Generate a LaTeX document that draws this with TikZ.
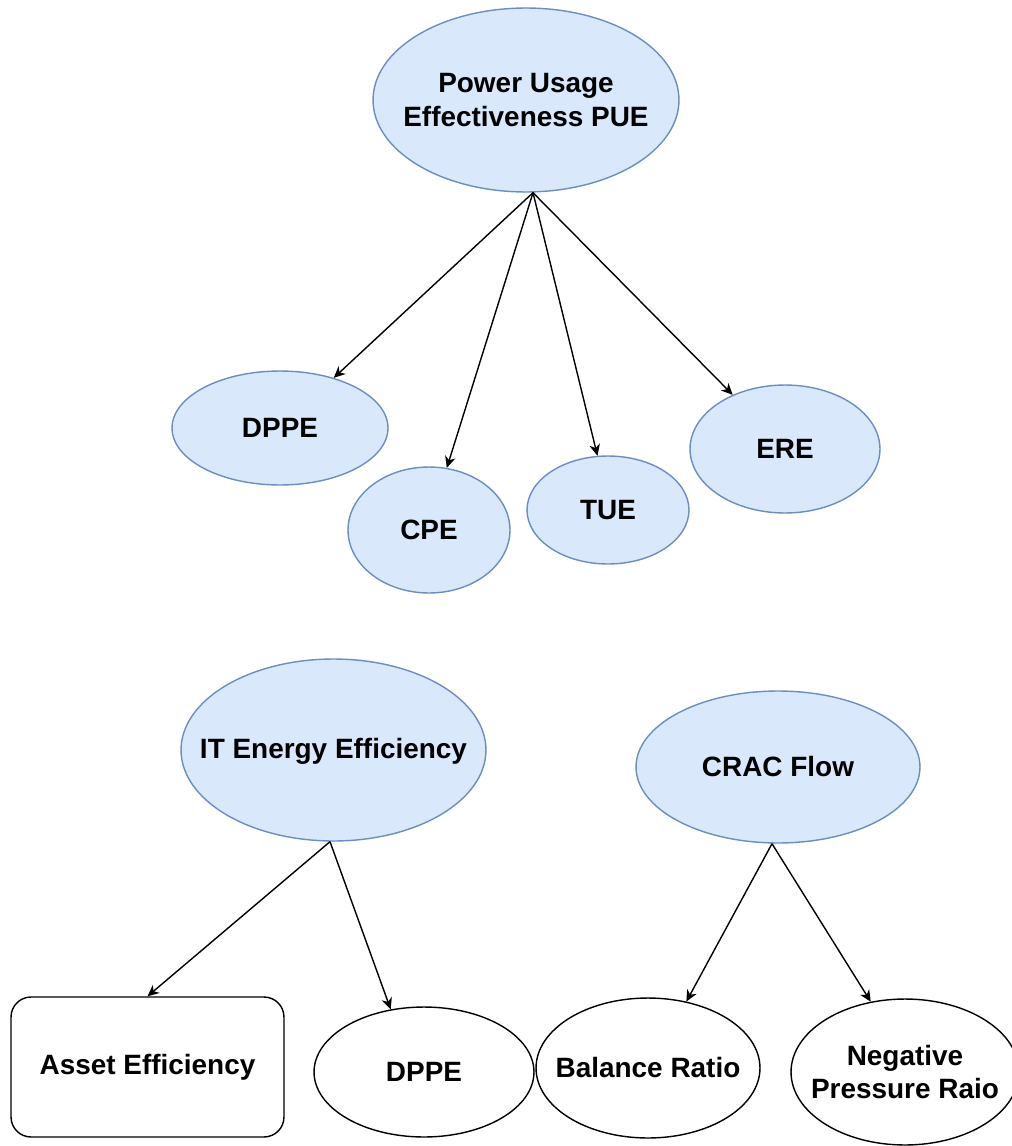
\documentclass[tikz,border=0pt]{standalone}
\usepackage{fontspec}
\setmainfont{Liberation Sans}
\usetikzlibrary{shapes.geometric,arrows.meta}
\definecolor{blueFill}{HTML}{DAE8FC}
\definecolor{blueLine}{HTML}{6C8EBF}
\tikzset{
  lbl/.style={font=\bfseries\fontsize{15.9}{19.3}\selectfont, align=center, text=black, inner sep=0pt},
  blueell/.style={ellipse, draw=blueLine, fill=blueFill, line width=0.8pt, inner sep=0pt},
  plainell/.style={ellipse, draw=black, fill=white, line width=0.8pt, inner sep=0pt},
  plainbox/.style={rectangle, rounded corners=0.4cm, draw=black, fill=white, line width=0.8pt, inner sep=0pt},
  link/.style={draw=black, line width=0.8pt, -{Stealth[length=6.5pt,width=6pt,inset=2pt]}}
}
\begin{document}
\begin{tikzpicture}[x=0.02cm,y=-0.02cm]
\useasboundingbox (0,0) rectangle (1011,1146);

% top tree
\node[blueell, minimum width=6.12cm, minimum height=3.68cm] (pue) at (526,100) {};
\node[lbl] (pueTxt) at (pue) {Power Usage\\Effectiveness PUE};
\node[blueell, minimum width=4.32cm, minimum height=2.28cm] (dppeA) at (280,428) {};
\node[lbl] (dppeATxt) at (dppeA) {DPPE};
\node[blueell, minimum width=3.24cm, minimum height=2.52cm] (cpe) at (429,530) {};
\node[lbl] (cpeTxt) at (cpe) {CPE};
\node[blueell, minimum width=3.24cm, minimum height=2.16cm] (tue) at (608,510) {};
\node[lbl] (tueTxt) at (tue) {TUE};
\node[blueell, minimum width=3.80cm, minimum height=2.56cm] (ere) at (785,449) {};
\node[lbl] (ereTxt) at (ere) {ERE};

\coordinate (pueFoot) at ([xshift=0.14cm]pue.south);
\draw[link] (pueFoot) -- (dppeA.43);
\draw[link] (pueFoot) -- (cpe.74);
\draw[link] (pueFoot) -- (tue.101);
\draw[link] (pueFoot) -- (ere.134);

% IT energy efficiency tree
\node[blueell, minimum width=6.10cm, minimum height=3.64cm] (itee) at (333.5,750) {};
\node[lbl] (iteeTxt) at (333.5,751) {IT Energy Efficiency};
\node[plainbox, minimum width=5.46cm, minimum height=2.80cm] (asset) at (147.5,1067) {};
\node[lbl] (assetTxt) at (asset) {Asset Efficiency};
\node[plainell, minimum width=4.40cm, minimum height=2.60cm] (dppeB) at (424,1072) {};
\node[lbl] (dppeBTxt) at (dppeB) {DPPE};

\coordinate (iteeFoot) at ([xshift=-0.07cm]itee.south);
\draw[link] (iteeFoot) -- (asset.north);
\draw[link] (iteeFoot) -- (dppeB.118);

% CRAC flow tree
\node[blueell, minimum width=5.68cm, minimum height=3.04cm] (crac) at (778,767) {};
\node[lbl] (cracTxt) at (crac) {CRAC Flow};
\node[plainell, minimum width=4.48cm, minimum height=2.80cm] (balance) at (648,1068) {};
\node[lbl] (balanceTxt) at (balance) {Balance Ratio};
\node[plainell, minimum width=4.56cm, minimum height=2.92cm] (negp) at (905,1072) {};
\node[lbl] (negpTxt) at (negp) {Negative\\Pressure Raio};

\coordinate (cracFoot) at ([xshift=-0.12cm]crac.south);
\draw[link] (cracFoot) -- (balance.60);
\draw[link] (cracFoot) -- (negp.116);
\end{tikzpicture}
\end{document}
